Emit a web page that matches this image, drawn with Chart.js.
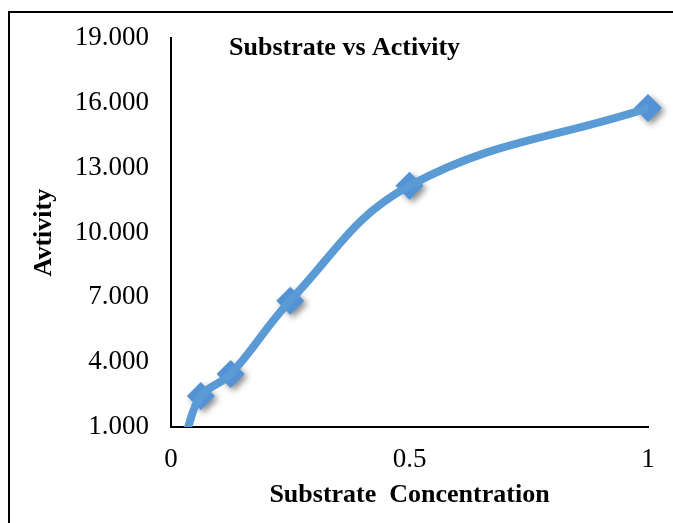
<!DOCTYPE html>
<html>
<head>
<meta charset="utf-8">
<script src="https://cdn.jsdelivr.net/npm/chart.js@4"></script>
<style>
  body { margin: 0; background: #fff; overflow: hidden; }
  #wrap { position: relative; width: 673px; height: 523px; }
  #frame { position: absolute; left: 8px; top: 11px; width: 700px; height: 600px; border: 2px solid #000; }
  canvas { position: absolute; left: 0; top: 0; }
</style>
</head>
<body>
<div id="wrap">
  <div id="frame"></div>
  <canvas id="chart" width="673" height="523"></canvas>
</div>
<script>
const concentration = [0.03125, 0.0625, 0.125, 0.25, 0.5, 1]
const activity = [0.7, 2.43, 3.45, 6.85, 12.17, 15.77]
const yTicks = [1, 4, 7, 10, 13, 16, 19]
const xTicks = [0, 0.5, 1]

const points = concentration.map((x, i) => ({ x, y: activity[i] }))
const blue = 'rgb(91,155,213)'
const serif = '"Liberation Serif", "Times New Roman", serif'

// chart title sits inside the plot area, like the original
const insideTitle = {
  id: 'insideTitle',
  afterDraw(chart) {
    const { ctx, chartArea } = chart
    ctx.save()
    ctx.font = 'bold 26px ' + serif
    ctx.fillStyle = '#000'
    ctx.textBaseline = 'middle'
    ctx.fillText('Substrate vs Activity', chartArea.left + 58, chartArea.top + 10)
    ctx.restore()
  }
}

// soft drop shadow on the markers only
const markerShadow = {
  id: 'markerShadow',
  beforeDatasetDraw(chart, args) {
    if (args.index !== 1) return
    const ctx = chart.ctx
    ctx.save()
    ctx.shadowColor = 'rgba(0,0,0,0.45)'
    ctx.shadowBlur = 6
    ctx.shadowOffsetX = 3
    ctx.shadowOffsetY = 3
  },
  afterDatasetDraw(chart, args) {
    if (args.index !== 1) return
    chart.ctx.restore()
  }
}

new Chart(document.getElementById('chart'), {
  type: 'scatter',
  data: {
    datasets: [
      {
        data: points,
        showLine: true,
        borderColor: blue,
        borderWidth: 8,
        tension: 0.4,
        pointRadius: 0,
        borderCapStyle: 'round',
      },
      {
        data: points,
        showLine: false,
        clip: false,
        pointStyle: 'rectRot',
        pointRadius: ctx => (ctx.raw && ctx.raw.y < yTicks[0] ? 0 : 14),
        pointBackgroundColor: 'rgb(84,146,214)',
        pointBorderWidth: 0,
      }
    ]
  },
  options: {
    responsive: false,
    animation: false,
    layout: { padding: { top: 38, right: 25, left: 0, bottom: 0 } },
    plugins: { legend: { display: false }, tooltip: { enabled: false } },
    scales: {
      x: {
        type: 'linear',
        min: 0,
        max: 1,
        afterBuildTicks: s => { s.ticks = xTicks.map(v => ({ value: v })) },
        afterFit: s => { s.height = 96 },
        grid: { display: false, drawTicks: false },
        border: { color: '#000', width: 2 },
        ticks: { color: '#000', padding: 17, font: { family: serif, size: 27 }, callback: v => String(v) },
        title: { display: true, text: 'Substrate  Concentration', color: '#000', font: { family: serif, size: 26, weight: 'bold' }, padding: { top: 0, bottom: 12 } }
      },
      y: {
        min: 1,
        max: 19,
        afterBuildTicks: s => { s.ticks = yTicks.map(v => ({ value: v })) },
        afterFit: s => { s.width = 171 },
        grid: { display: false, drawTicks: false },
        border: { color: '#000', width: 2 },
        ticks: { color: '#000', padding: 22, font: { family: serif, size: 27 }, callback: v => v.toFixed(3) },
        title: { display: true, text: 'Avtivity', color: '#000', font: { family: serif, size: 26, weight: 'bold' }, padding: { top: 29, bottom: 0 } }
      }
    }
  },
  plugins: [insideTitle, markerShadow]
})
</script>
</body>
</html>
